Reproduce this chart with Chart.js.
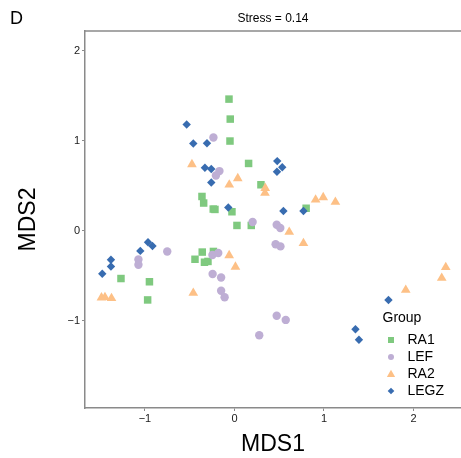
<!DOCTYPE html>
<html><head><meta charset="utf-8">
<script src="https://cdn.jsdelivr.net/npm/chart.js@4/dist/chart.umd.min.js"></script>
<style>html,body{margin:0;padding:0;background:#fff;overflow:hidden}#wrap{width:461px;height:458px;position:relative;overflow:hidden}canvas{display:block}</style>
</head><body><div id="wrap"><canvas id="c" width="470" height="458"></canvas></div>
<script>
const groups = ['RA1', 'LEF', 'RA2', 'LEGZ'];
const colors = ['#7FC97F', '#BEAED4', '#FDC086', '#386CB0'];
const ra1X = [-0.061,-0.047,-0.050,0.158,0.296,-0.363,-0.344,-0.237,-0.218,-0.028,0.028,0.188,0.801,-0.360,-0.235,-0.441,-0.335,-0.296,-1.268,-0.950,-0.970];
const ra1Y = [1.463,1.241,0.997,0.748,0.511,0.381,0.308,0.241,0.237,0.211,0.059,0.059,0.250,-0.237,-0.230,-0.317,-0.350,-0.341,-0.531,-0.567,-0.769];
const lefX = [-0.235,-0.168,-0.207,0.203,0.472,0.512,0.460,0.514,-0.751,-1.073,-1.073,-0.246,-0.181,-0.244,-0.149,-0.149,-0.110,0.472,0.573,0.277];
const lefY = [1.037,0.663,0.614,0.097,0.067,0.030,-0.150,-0.174,-0.231,-0.319,-0.378,-0.270,-0.248,-0.481,-0.519,-0.667,-0.739,-0.944,-0.991,-1.161];
const ra2X = [-0.475,-0.058,0.037,0.344,0.341,0.907,0.992,1.128,0.612,0.771,-0.059,0.011,-0.460,-1.486,-1.447,-1.374,2.361,2.316,1.914];
const ra2Y = [0.737,0.511,0.581,0.474,0.419,0.344,0.370,0.319,-0.014,-0.139,-0.274,-0.402,-0.692,-0.744,-0.739,-0.750,-0.406,-0.526,-0.659];
const legzX = [-0.534,-0.460,-0.307,-0.330,-0.259,-0.259,-0.069,0.478,0.534,0.475,0.547,0.771,-0.966,-0.916,-1.052,-1.380,-1.380,-1.477,1.721,1.352,1.391];
const legzY = [1.181,0.970,0.972,0.700,0.686,0.537,0.259,0.774,0.706,0.656,0.219,0.220,-0.128,-0.170,-0.224,-0.322,-0.398,-0.478,-0.770,-1.094,-1.211];
const xTicks = [-1, 0, 1, 2];
const xTickLabels = ['\u22121', '0', '1', '2'];
const yTicks = [-1, 0, 1, 2];
const yTickLabels = ['\u22121', '0', '1', '2'];
const titleText = 'Stress = 0.14';
const panelLabel = 'D';
const xTitle = 'MDS1';
const yTitle = 'MDS2';
const legendTitle = 'Group';

const FONT = '"Liberation Sans", Arial, Helvetica, sans-serif';
const styles = ['rect', 'circle', 'triangle', 'rectRot'];
const radii = [5.3, 4.2, 5.6, 4.2];
const orders = [3, 2, 1, 0];
const xs = [ra1X, lefX, ra2X, legzX];
const ys = [ra1Y, lefY, ra2Y, legzY];
const VISIBLE_RIGHT = 461;

const datasets = groups.map((g, i) => ({
  label: g,
  data: xs[i].map((x, j) => ({ x: x, y: ys[i][j] })),
  pointStyle: styles[i],
  pointRadius: radii[i],
  pointHoverRadius: radii[i],
  backgroundColor: colors[i],
  borderColor: colors[i],
  borderWidth: 0,
  order: orders[i]
}));

function drawSym(ctx, style, x, y, s, color) {
  ctx.fillStyle = color;
  ctx.beginPath();
  if (style === 'rect') { ctx.rect(x - s, y - s, 2 * s, 2 * s); }
  else if (style === 'circle') { ctx.arc(x, y, s, 0, Math.PI * 2); }
  else if (style === 'triangle') { ctx.moveTo(x, y - s * 1.15); ctx.lineTo(x + s * 1.15, y + s * 0.8); ctx.lineTo(x - s * 1.15, y + s * 0.8); ctx.closePath(); }
  else { ctx.moveTo(x, y - s * 1.1); ctx.lineTo(x + s * 1.1, y); ctx.lineTo(x, y + s * 1.1); ctx.lineTo(x - s * 1.1, y); ctx.closePath(); }
  ctx.fill();
}

const decor = {
  id: 'decor',
  afterDraw(chart) {
    const ctx = chart.ctx, a = chart.chartArea;
    const cx = (a.left + VISIBLE_RIGHT) / 2;
    ctx.save();
    ctx.strokeStyle = '#8a8a8a'; ctx.lineWidth = 1.5;
    ctx.beginPath(); ctx.moveTo(a.left - 0.75, a.top); ctx.lineTo(a.right, a.top); ctx.stroke();
    ctx.fillStyle = '#000';
    ctx.textBaseline = 'middle';
    ctx.font = '12px ' + FONT; ctx.textAlign = 'center';
    ctx.fillText(titleText, cx, 18.5);
    ctx.font = '18px ' + FONT; ctx.textAlign = 'left';
    ctx.fillText(panelLabel, 10, 19.5);
    ctx.font = '23px ' + FONT; ctx.textAlign = 'center';
    ctx.fillText(xTitle, cx, 445);
    ctx.save(); ctx.translate(29, (a.top + a.bottom) / 2); ctx.rotate(-Math.PI / 2);
    ctx.fillText(yTitle, 0, 0); ctx.restore();
    // legend
    ctx.font = '14px ' + FONT; ctx.textAlign = 'left'; ctx.fillStyle = '#000';
    ctx.fillText(legendTitle, 382.5, 318.5);
    const legSize = [3, 3, 3.6, 3];
    groups.forEach((g, i) => {
      const yy = 340 + i * 17;
      drawSym(ctx, styles[i], 391, yy, legSize[i], colors[i]);
      ctx.fillStyle = '#000';
      ctx.fillText(g, 407.5, yy + 0.5);
    });
    ctx.restore();
  }
};

new Chart(document.getElementById('c'), {
  type: 'scatter',
  data: { datasets: datasets },
  options: {
    responsive: false,
    animation: false,
    devicePixelRatio: 1,
    layout: { autoPadding: false, padding: { left: 0, right: 0, top: 31, bottom: 0 } },
    plugins: { legend: { display: false }, tooltip: { enabled: false }, title: { display: false } },
    scales: {
      x: {
        type: 'linear', min: -1.67, max: 2.632,
        afterBuildTicks: s => { s.ticks = xTicks.map(v => ({ value: v })); },
        afterFit: s => { s.height = 50; },
        ticks: { callback: v => xTickLabels[xTicks.indexOf(v)], font: { size: 11, family: FONT }, color: '#1a1a1a', padding: 1, maxRotation: 0, autoSkip: false },
        grid: { drawOnChartArea: false, drawTicks: true, tickLength: 3, color: '#8a8a8a', lineWidth: 1 },
        border: { display: true, color: '#8a8a8a', width: 1.5 }
      },
      y: {
        type: 'linear', min: -1.97, max: 2.22,
        afterBuildTicks: s => { s.ticks = yTicks.map(v => ({ value: v })); },
        afterFit: s => { s.width = 85; },
        ticks: { callback: v => yTickLabels[yTicks.indexOf(v)], font: { size: 11, family: FONT }, color: '#1a1a1a', padding: 2, autoSkip: false },
        grid: { drawOnChartArea: false, drawTicks: true, tickLength: 3, color: '#8a8a8a', lineWidth: 1 },
        border: { display: true, color: '#8a8a8a', width: 1.5 }
      }
    }
  },
  plugins: [decor]
});
</script></body></html>
